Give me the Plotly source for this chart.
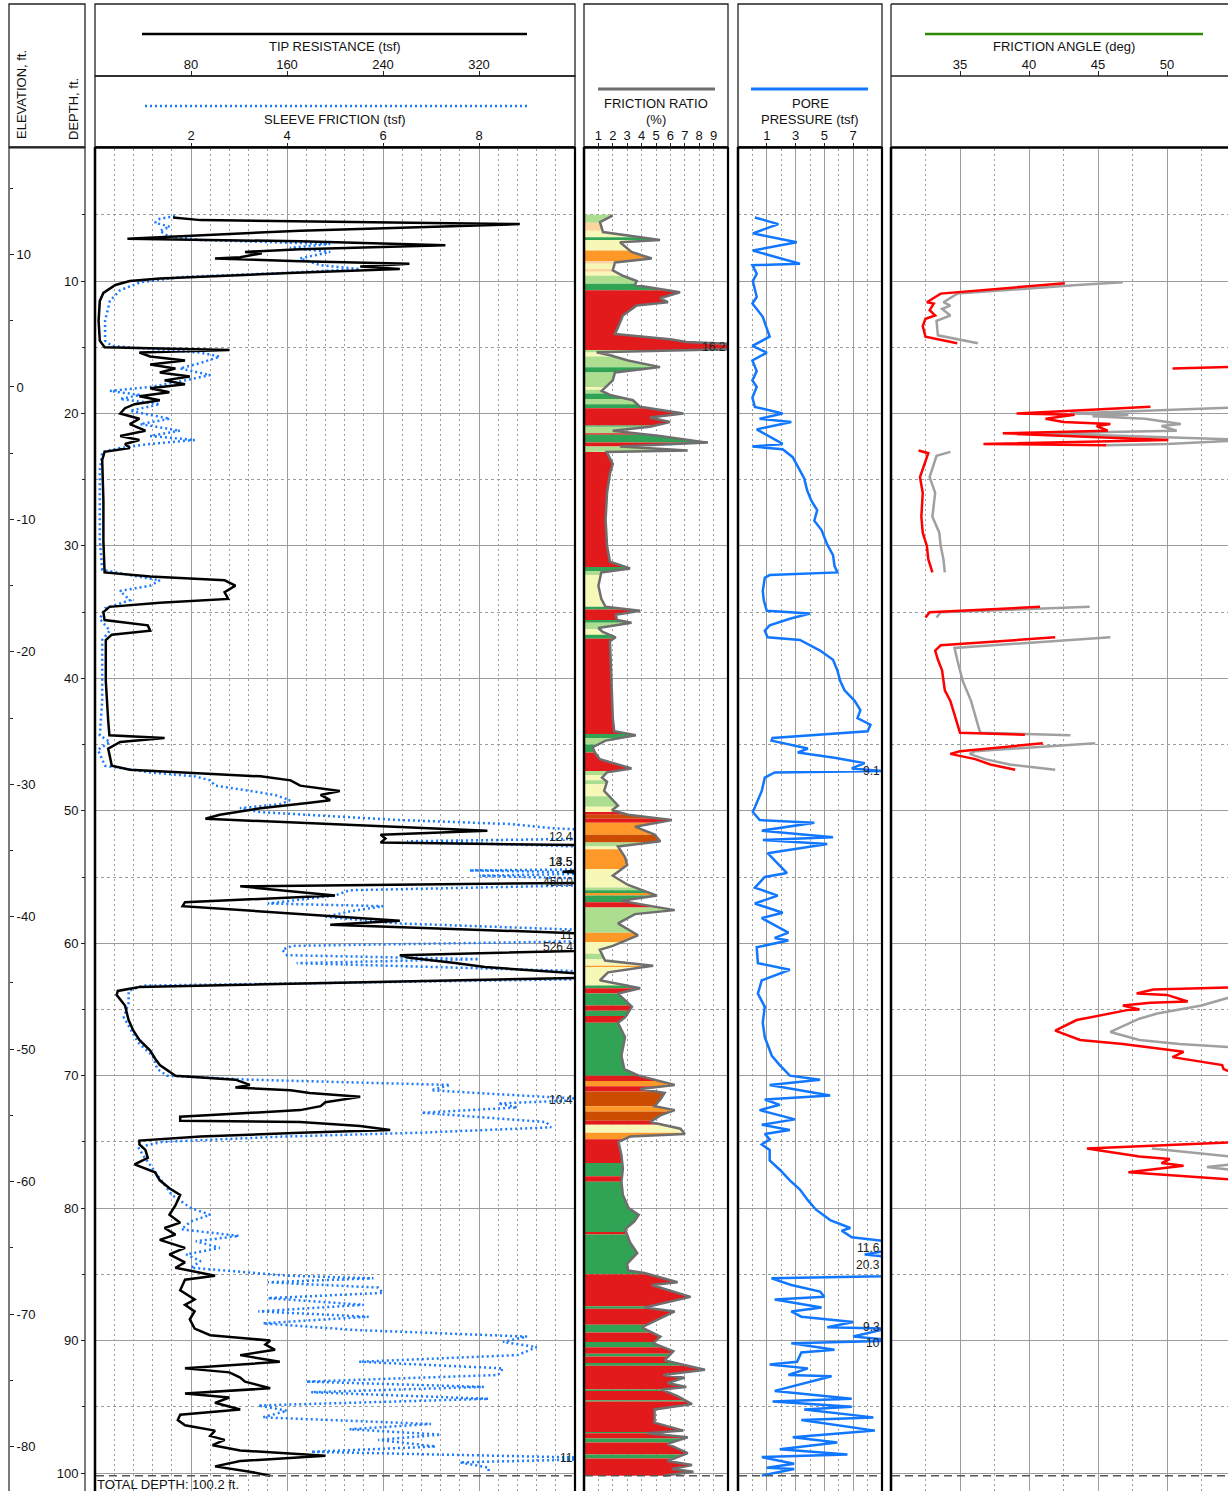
import numpy as np
import plotly.graph_objects as go

# ---------------- DATA (depth ft, value) ----------------
TIP = [(5.2,65),(5.4,88),(5.7,354),(6.2,171),(6.8,27),(7.0,171),(7.3,292),(7.6,171),(7.8,125),(7.9,139),(8.2,121),(8.3,100),(8.5,171),(8.7,262),(8.9,221),(9.1,254),(9.4,162),(9.8,54),(10.0,29),(10.3,17),(10.9,7),(11.5,4),(13.0,3),(14.5,4),(15.0,8),(15.2,112),(15.4,37),(15.7,46),(16.0,75),(16.3,46),(16.6,67),(16.9,54),(17.2,79),(17.5,58),(17.8,75),(18.1,46),(18.4,62),(18.7,37),(19.0,54),(19.3,33),(19.6,25),(20.0,21),(20.4,37),(20.8,29),(21.3,42),(21.7,21),(22.0,37),(22.3,25),(22.6,29),(22.9,8),(23.5,6),(26.6,7),(29.6,7),(32.0,8),(32.3,46),(32.6,108),(33.0,117),(33.5,108),(34.0,111),(34.3,54),(34.6,12),(35.0,7),(35.6,8),(36.0,44),(36.4,46),(36.7,14),(37.1,9),(40.2,9),(43.2,11),(44.3,12),(44.5,58),(44.8,21),(45.3,11),(46.6,14),(46.9,29),(47.2,88),(47.4,138),(47.7,163),(48.1,171),(48.5,204),(48.8,188),(49.2,196),(49.4,179),(49.8,138),(50.3,104),(50.6,92),(50.9,171),(51.2,254),(51.5,327),(51.8,238),(52.1,242),(52.4,238),(52.6,420),(54.4,420),(54.6,390),(54.8,420),(55.4,450),(55.7,121),(56.4,200),(56.9,75),(57.2,73),(58.3,254),(58.6,196),(59.3,420),(60.3,526.4),(60.9,254),(61.1,262),(61.5,300),(61.8,325),(62.4,420),(62.6,410),(63.3,37),(63.6,19),(63.9,18),(64.7,25),(65.8,28),(66.6,32),(67.3,37),(68.1,46),(68.7,50),(69.2,54),(70.0,67),(70.3,117),(70.7,129),(70.9,117),(71.1,163),(71.3,179),(71.6,221),(72.0,192),(72.3,188),(72.6,171),(73.1,71),(73.4,71),(73.5,171),(73.8,221),(74.1,246),(74.3,171),(74.6,88),(74.9,37),(75.2,37),(75.6,42),(76.2,44),(76.7,33),(77.3,50),(77.9,54),(78.5,62),(79.0,71),(79.8,67),(80.5,62),(81.1,71),(81.5,58),(82.0,67),(82.4,54),(83.0,75),(83.5,62),(84.1,75),(84.5,67),(85.1,100),(85.4,75),(86.2,71),(86.9,83),(87.3,75),(87.8,83),(88.4,79),(89.1,83),(89.6,96),(90.0,146),(90.3,142),(90.7,150),(91.1,121),(91.6,154),(92.1,75),(92.4,112),(92.8,121),(93.1,125),(93.6,146),(94.0,75),(94.3,112),(94.7,100),(95.2,121),(95.6,71),(96.0,69),(96.4,75),(96.8,100),(97.2,96),(97.5,108),(97.9,98),(98.3,121),(98.7,192),(99.1,121),(99.5,100),(99.9,129),(100.2,146)]

SLEEVE = [(5.1,1.67),(5.3,1.35),(5.6,1.25),(5.9,1.56),(6.2,1.35),(6.6,1.52),(6.9,2.19),(7.1,4.27),(7.2,4.9),(7.5,4.06),(7.8,4.9),(8.3,4.27),(8.8,4.69),(9.1,5.52),(9.4,3.85),(9.7,1.77),(10.1,0.94),(10.7,0.52),(11.5,0.31),(13.0,0.21),(14.5,0.21),(14.9,0.35),(15.4,2.19),(15.7,2.6),(16.2,2.19),(16.6,1.77),(17.1,2.4),(17.5,1.88),(18.0,1.15),(18.3,0.31),(18.6,0.94),(18.9,0.52),(19.3,1.35),(19.8,0.73),(20.4,1.56),(20.8,0.94),(21.3,1.77),(21.7,1.15),(22.0,2.08),(22.3,1.15),(22.6,0.52),(22.9,0.15),(24.3,0.10),(29.6,0.10),(31.8,0.15),(32.2,0.73),(32.6,1.35),(33.0,1.15),(33.4,0.52),(34.1,0.73),(34.7,0.21),(35.5,0.10),(36.4,0.31),(37.1,0.15),(41.7,0.15),(44.3,0.10),(44.8,0.31),(45.4,0.06),(46.6,0.21),(47.1,1.15),(47.4,2.08),(47.7,2.4),(48.1,2.5),(48.5,3.23),(48.8,3.75),(49.2,4.06),(49.5,3.85),(49.8,3.02),(50.1,3.44),(50.4,4.9),(50.7,6.35),(51.0,8.65),(51.3,9.48),(51.6,11.0),(52.0,12.4),(52.3,6.5),(52.8,11.0),(53.9,14.5),(54.4,11.0),(54.5,7.8),(54.7,11.0),(54.9,8.0),(55.2,11.0),(55.6,10.5),(56.0,5.3),(56.4,5.0),(57.0,3.6),(57.2,6.0),(57.6,5.3),(58.0,4.8),(58.5,6.3),(59.1,11.0),(59.8,11.0),(60.2,4.1),(60.5,3.9),(60.9,4.0),(61.2,8.0),(61.5,4.2),(62.2,11.0),(62.7,10.5),(63.2,1.0),(63.6,0.7),(64.5,0.7),(65.6,0.6),(66.5,0.75),(67.5,0.9),(68.5,1.2),(69.5,1.3),(70.0,1.5),(70.3,3.2),(70.7,7.4),(71.1,7.0),(71.4,8.4),(71.8,10.4),(72.1,8.4),(72.4,8.8),(72.8,6.8),(73.1,8.0),(73.5,9.4),(73.9,9.5),(74.3,6.8),(74.6,3.9),(75.0,1.4),(75.4,0.9),(76.0,1.0),(77.0,1.2),(78.0,1.4),(79.0,1.6),(80.0,2.0),(80.5,2.4),(81.0,2.0),(81.6,1.8),(82.1,3.0),(82.5,2.1),(83.0,2.6),(83.5,1.9),(84.0,2.2),(84.5,2.0),(85.1,4.0),(85.3,5.8),(85.6,3.6),(86.0,5.9),(86.4,6.0),(86.8,3.6),(87.3,5.6),(87.8,3.4),(88.2,5.7),(88.7,3.5),(89.2,5.4),(89.7,9.0),(90.1,8.5),(90.5,9.2),(91.1,8.8),(91.6,5.5),(92.1,8.5),(92.6,8.4),(93.1,4.4),(93.5,8.1),(93.9,4.5),(94.4,8.2),(94.9,3.4),(95.3,4.0),(95.8,3.5),(96.3,7.0),(96.7,5.3),(97.1,7.2),(97.5,5.9),(98.0,7.1),(98.4,4.5),(98.9,11.0),(99.2,7.6),(99.6,8.2),(100.0,8.2)]

FRICTION_RATIO = [(5.0,1.9),(5.1,1.92),(5.56,1.11),(6.3,1.32),(6.9,5.28),(7.07,2.5),(7.8,3.3),(8.3,4.7),(8.6,2.15),(9.2,2.0),(9.6,2.7),(10.0,3.66),(10.3,3.54),(10.85,6.67),(11.3,5.28),(11.6,5.83),(11.85,3.66),(12.6,2.7),(13.5,2.36),(14.0,2.15),(14.4,5.97),(14.6,7.13),(15.0,16.2),(15.37,0.88),(15.6,1.8),(16.0,3.06),(16.5,5.28),(16.9,2.15),(17.5,2.0),(18.3,1.23),(18.6,1.8),(19.0,3.4),(19.5,3.9),(20.0,6.9),(20.3,4.58),(20.65,5.97),(21.0,4.58),(21.3,2.0),(21.7,5.28),(22.2,8.6),(22.5,2.5),(22.8,7.2),(22.9,1.57),(23.8,2.0),(24.55,1.8),(26.0,1.6),(28.0,1.5),(30.0,1.6),(31.2,1.8),(31.7,3.2),(32.0,1.2),(33.0,1.0),(34.0,1.2),(34.6,1.5),(34.9,3.9),(35.2,2.2),(35.6,2.3),(35.8,3.3),(36.2,1.0),(36.5,1.3),(36.9,2.2),(37.2,1.8),(40.0,1.9),(43.0,2.0),(44.0,2.1),(44.3,3.6),(44.7,1.5),(45.2,0.6),(45.6,0.76),(46.1,1.1),(46.8,3.3),(47.1,1.6),(47.5,1.25),(47.8,1.6),(48.5,1.4),(49.6,2.36),(49.96,1.94),(50.3,3.06),(50.7,6.1),(51.2,3.54),(51.8,4.9),(52.3,5.3),(52.7,2.36),(53.5,2.85),(54.1,3.0),(54.9,2.0),(55.6,3.06),(56.4,5.07),(56.8,2.6),(57.5,6.3),(57.8,3.54),(58.5,2.36),(59.4,3.75),(60.2,2.0),(60.5,1.1),(61.3,1.46),(61.7,4.8),(62.2,1.67),(62.8,1.1),(63.4,3.9),(63.8,2.36),(64.8,3.33),(65.6,2.85),(66.0,2.36),(67.1,2.85),(68.5,2.6),(69.5,2.8),(70.0,3.8),(70.7,6.3),(71.0,3.9),(71.3,5.6),(71.8,5.3),(72.3,4.9),(72.6,6.3),(73.0,5.3),(73.5,4.6),(74.0,6.7),(74.4,7.0),(74.6,3.2),(75.0,2.4),(76.0,2.6),(77.0,2.7),(78.0,2.6),(79.0,2.7),(80.0,3.1),(80.5,3.8),(81.0,3.5),(81.6,2.85),(82.6,3.2),(83.4,3.7),(84.2,3.0),(84.7,3.06),(84.9,4.2),(85.6,6.5),(85.8,4.7),(86.7,7.4),(87.5,4.2),(87.8,6.3),(89.0,4.0),(89.7,5.3),(90.2,4.8),(90.8,6.2),(91.5,5.6),(92.2,8.4),(92.6,5.5),(92.8,7.0),(93.2,5.8),(93.5,7.1),(93.7,5.4),(94.2,6.5),(94.8,7.5),(95.2,4.9),(96.2,4.9),(96.8,6.9),(97.0,4.4),(97.3,7.2),(97.8,5.8),(98.5,7.2),(99.1,5.8),(99.4,7.5),(99.7,6.1),(99.9,7.6),(100.2,5.5)]

# soil behaviour zones: (top depth, bottom depth, zone key)
ZONES = [(5.0,5.6,"LG"),(5.6,6.2,"PE"),(6.2,6.7,"PY"),(6.7,6.9,"DG"),(6.9,7.7,"PY"),(7.7,8.5,"OR"),(8.5,8.7,"PE"),(8.7,9.1,"PY"),(9.1,9.3,"PE"),(9.3,9.6,"PY"),(9.6,10.2,"LG"),(10.2,10.7,"DG"),(10.7,15.2,"R"),(15.2,15.4,"LG"),(15.4,15.7,"PY"),(15.7,16.5,"LG"),(16.5,16.9,"DG"),(16.9,18.0,"LG"),(18.0,18.2,"PY"),(18.2,18.5,"LG"),(18.5,18.9,"DG"),(18.9,19.3,"LG"),(19.3,19.6,"DG"),(19.6,20.9,"R"),(20.9,21.0,"DG"),(21.0,21.5,"LG"),(21.5,21.6,"R"),(21.6,22.2,"DG"),(22.2,22.5,"R"),(22.5,22.9,"LG"),(22.9,31.6,"R"),(31.6,31.9,"DG"),(31.9,32.2,"LG"),(32.2,34.6,"PY"),(34.6,34.8,"DG"),(34.8,35.6,"R"),(35.6,35.8,"DG"),(35.8,36.3,"LG"),(36.3,36.7,"PY"),(36.7,37.0,"DG"),(37.0,44.2,"R"),(44.2,44.5,"DG"),(44.5,45.0,"LG"),(45.0,45.6,"DG"),(45.6,47.0,"R"),(47.0,47.3,"LG"),(47.3,47.7,"PY"),(47.7,48.0,"LG"),(48.0,48.9,"PY"),(48.9,49.7,"LG"),(49.7,50.1,"PY"),(50.1,50.3,"R"),(50.3,50.6,"DO"),(50.6,50.9,"R"),(50.9,51.8,"OR"),(51.8,52.4,"DO"),(52.4,52.7,"LG"),(52.7,52.9,"PY"),(52.9,54.4,"OR"),(54.4,55.8,"PY"),(55.8,56.0,"LG"),(56.0,56.2,"DG"),(56.2,56.4,"OR"),(56.4,56.9,"DG"),(56.9,57.3,"R"),(57.3,59.2,"LG"),(59.2,59.9,"OR"),(59.9,60.8,"PY"),(60.8,61.2,"LG"),(61.2,61.7,"PY"),(61.7,61.8,"OR"),(61.8,63.2,"PY"),(63.2,63.4,"DG"),(63.4,63.8,"R"),(63.8,64.7,"DG"),(64.7,65.1,"R"),(65.1,65.5,"DG"),(65.5,66.0,"R"),(66.0,70.0,"DG"),(70.0,70.4,"R"),(70.4,70.8,"OR"),(70.8,71.2,"R"),(71.2,72.3,"DO"),(72.3,72.7,"OR"),(72.7,73.4,"DO"),(73.4,73.7,"R"),(73.7,74.3,"PY"),(74.3,74.8,"OR"),(74.8,76.6,"R"),(76.6,77.6,"DG"),(77.6,78.0,"R"),(78.0,81.8,"DG"),(81.8,82.0,"R"),(82.0,85.0,"DG"),(85.0,87.4,"R"),(87.4,87.6,"DG"),(87.6,88.8,"R"),(88.8,89.4,"DG"),(89.4,90.1,"R"),(90.1,90.5,"DG"),(90.5,91.0,"R"),(91.0,91.2,"DG"),(91.2,91.7,"R"),(91.7,91.9,"DG"),(91.9,93.7,"R"),(93.7,93.8,"DG"),(93.8,94.5,"R"),(94.5,94.6,"DG"),(94.6,96.9,"R"),(96.9,97.0,"DG"),(97.0,97.4,"R"),(97.4,97.7,"DG"),(97.7,98.6,"R"),(98.6,98.9,"DG"),(98.9,100.2,"R")]
ZONE_COLORS = {"R":"#e31a1c","DG":"#31a354","LG":"#addd8e","PY":"#f7f8b8","OR":"#fe9929","DO":"#cc4c02","PE":"#fdd49e"}

PORE = [(5.2,0.17),(5.7,1.8),(6.4,0.03),(7.07,3.08),(7.7,0.03),(8.7,3.3),(8.8,0.0),(9.45,0.3),(10.0,0.03),(11.2,0.3),(11.7,0.0),(12.7,0.72),(14.2,1.2),(14.9,0.0),(15.4,1.0),(16.0,0.0),(16.8,0.3),(17.5,0.0),(18.0,0.3),(18.8,0.0),(19.5,0.17),(20.0,2.1),(20.4,0.5),(20.65,2.7),(21.2,0.3),(22.3,2.1),(22.5,0.0),(22.7,2.1),(23.3,2.8),(24.3,3.3),(24.9,3.6),(25.8,3.8),(26.6,4.1),(27.3,4.5),(28.1,4.3),(28.8,4.8),(29.9,5.2),(30.7,5.6),(31.5,5.7),(32.0,5.9),(32.2,1.2),(32.4,0.86),(33.4,0.72),(34.1,0.79),(34.9,1.0),(35.1,4.0),(35.5,2.6),(36.0,1.2),(36.4,0.86),(36.9,1.06),(37.1,3.3),(37.9,4.7),(38.6,5.6),(39.4,5.9),(40.2,6.1),(40.9,6.4),(41.7,7.1),(42.4,7.5),(43.0,7.3),(43.5,8.2),(44.0,8.0),(44.5,1.4),(44.7,1.33),(45.3,3.85),(45.6,3.15),(46.0,5.7),(46.4,7.8),(46.8,6.9),(47.0,9.1),(47.1,1.55),(47.5,0.86),(48.5,0.65),(49.2,0.38),(50.1,0.03),(50.7,0.51),(50.9,4.3),(51.5,0.65),(52.0,5.6),(52.2,0.72),(52.5,5.2),(53.2,1.06),(54.0,1.76),(54.7,2.4),(55.0,0.86),(55.8,0.17),(56.4,1.76),(57.0,0.17),(57.7,2.1),(58.1,0.65),(59.2,2.5),(59.6,1.55),(59.8,2.5),(60.3,0.3),(61.5,0.38),(62.0,2.6),(62.8,0.65),(63.8,0.38),(64.8,0.86),(66.0,0.72),(67.1,0.86),(67.7,1.06),(68.5,1.35),(69.2,1.9),(70.0,2.6),(70.3,4.7),(70.7,1.2),(71.1,3.3),(71.5,5.4),(71.8,0.86),(72.2,1.9),(72.6,0.5),(72.9,1.55),(73.3,2.95),(73.7,0.65),(74.1,2.6),(74.4,0.86),(74.8,1.2),(75.2,0.65),(75.6,1.2),(76.4,1.2),(77.1,1.9),(77.9,2.6),(78.6,3.3),(79.4,3.85),(80.1,4.4),(80.9,5.4),(81.5,6.8),(81.7,6.2),(82.2,6.9),(82.8,11.6),(83.5,7.8),(83.7,9.5),(84.9,20.3),(85.3,1.33),(85.8,2.7),(86.3,4.7),(86.7,5.0),(86.9,1.55),(87.5,4.8),(87.8,2.7),(88.2,3.4),(88.6,7.0),(89.0,5.2),(89.1,9.3),(89.7,7.0),(90.0,10.0),(90.2,2.7),(90.7,5.7),(90.9,3.4),(91.6,3.1),(91.8,1.2),(92.1,3.85),(92.6,2.5),(92.7,5.5),(93.8,1.55),(94.4,6.9),(94.6,1.4),(95.0,6.9),(95.2,3.6),(95.8,8.4),(96.0,3.4),(96.8,8.5),(97.3,2.8),(97.7,5.9),(98.2,1.9),(98.6,6.6),(98.8,0.65),(99.3,2.9),(99.6,1.0),(99.7,2.9),(100.2,0.65)]

# friction angle, two methods; None splits segments
PHI_RED = [(10.17,42.6),(10.4,39.8),(10.85,34.8),(10.95,33.6),(11.6,32.6),(11.7,33.1),(12.2,32.8),(12.6,33.2),(12.85,32.5),(13.4,32.3),(14.2,32.5),(14.5,34.0),(14.7,34.8),None,
           (16.6,50.4),(16.45,55.5),None,
           (19.5,48.8),(20.0,39.1),(20.1,43.3),(20.4,41.2),(20.65,42.5),(20.8,45.9),(20.95,44.9),(21.3,45.7),(21.5,38.1),(22.0,50.1),(22.3,36.7),(22.4,45.6),None,
           (22.8,32.0),(23.0,32.7),(24.8,32.1),(26.0,32.3),(27.8,32.2),(29.0,32.3),(30.0,32.6),(31.0,32.7),(32.0,33.0),None,
           (34.6,40.8),(35.0,32.8),(35.4,32.5),None,
           (36.9,41.9),(37.5,33.6),(37.9,33.2),(38.6,33.4),(39.4,33.7),(40.2,33.8),(40.9,33.9),(41.7,34.3),(42.4,34.5),(43.2,34.7),(43.9,34.9),(44.1,35.0),(44.25,39.7),None,
           (44.9,41.0),(45.5,35.0),(45.7,34.3),(46.1,36.1),(46.5,37.2),(46.9,39.0),None,
           (63.3,55.5),(63.5,49.0),(63.8,47.8),(63.9,50.0),(64.4,51.5),(64.5,48.8),(64.7,46.8),(65.0,48.0),(65.05,47.1),(65.8,43.45),(66.6,41.9),(67.3,43.7),(67.6,46.8),(68.0,50.0),(68.2,51.2),(68.6,50.4),(69.0,52.6),(69.2,54.0),(69.5,54.1),(70.1,55.5),None,
           (75.0,55.5),(75.5,44.2),(76.1,48.0),(76.3,50.2),(76.6,49.6),(76.8,51.2),(77.3,47.2),(77.7,52.6),(77.9,55.5)]
PHI_GRAY = [(10.1,46.8),(10.3,43.5),(10.95,34.8),(11.6,33.8),(11.85,34.3),(12.1,33.7),(12.6,34.3),(13.0,33.3),(14.1,33.4),(14.5,35.5),(14.7,36.3),None,
            (19.5,56.0),(20.0,43.0),(20.1,47.2),(20.2,44.6),(20.4,48.4),(20.8,51.0),(20.95,49.6),(21.3,50.7),(21.5,40.8),(22.0,56.0),(22.3,50.0),(22.4,45.6),None,
            (22.9,34.3),(23.2,33.3),(24.8,32.8),(26.0,33.2),(27.8,33.0),(29.0,33.5),(30.0,33.6),(31.0,33.8),(32.0,33.9),None,
            (34.6,44.4),(35.0,33.6),(35.4,33.3),None,
            (36.9,45.9),(37.7,34.6),(38.6,34.8),(40.2,35.2),(41.7,35.8),(43.2,36.2),(43.9,36.4),(44.1,36.5),(44.3,43.0),None,
            (44.9,44.8),(45.5,36.1),(45.7,35.7),(46.1,36.8),(46.5,38.6),(46.9,41.9),None,
            (63.8,55.5),(64.7,52.5),(65.3,49.3),(65.7,48.0),(66.7,45.9),(67.3,48.0),(67.6,50.9),(67.9,55.5),None,
            (75.5,48.9),(76.2,55.5),None,(76.6,55.5),(76.9,52.9),(77.2,55.5)]

TIP_TICKS = [80, 160, 240, 320]
SLEEVE_TICKS = [2, 4, 6, 8]
FR_TICKS = [1, 2, 3, 4, 5, 6, 7, 8, 9]
PORE_TICKS = [1, 3, 5, 7]
PHI_TICKS = [35, 40, 45, 50]
DEPTH_TICKS = list(range(10, 101, 10))
ELEV_TICKS = list(range(10, -81, -10))
ELEV_OFFSET = 18.0
TOTAL_DEPTH = 100.2

# clipped-value labels: (panel, depth, text)
CLIP_LABELS = [("p1", 52.0, "12.4"), ("p1", 53.9, "14.5"), ("p1", 53.9, "13.5"), ("p1", 55.4, "450.0"),
               ("p1", 59.4, "11"), ("p1", 60.3, "526.4"), ("p1", 71.8, "10.4"), ("p1", 98.9, "11"),
               ("p2", 15.0, "16.2"),
               ("p3", 47.0, "9.1"), ("p3", 83.0, "11.6"), ("p3", 84.3, "20.3"), ("p3", 89.0, "9.3"), ("p3", 90.2, "10")]

# ---------------- LAYOUT HELPERS ----------------
W, H = 1228, 1491
def X(px): return px / W
def Y(py): return 1 - py / H

TOP = 148.6
PX_PER_FT = 13.244
DEPTH_MAX = (H - TOP) / PX_PER_FT

FONT = "Liberation Sans, Arial, sans-serif"
FS = 13
BLUE = "#1a7bff"
GRID = "#9c9c9c"

def split(series):
    d = [p[0] if p is not None else None for p in series]
    v = [p[1] if p is not None else None for p in series]
    return d, v

fig = go.Figure()

sd, sv = split(SLEEVE)
fig.add_trace(go.Scatter(x=sv, y=sd, xaxis="x", yaxis="y", mode="lines",
                         line=dict(color=BLUE, width=2.5, dash="2px,3px"), hoverinfo="skip"))
td, tv = split(TIP)
fig.add_trace(go.Scatter(x=tv, y=td, xaxis="x2", yaxis="y", mode="lines",
                         line=dict(color="black", width=2.5), hoverinfo="skip"))

fd, fv = split(FRICTION_RATIO)
fd = np.array(fd); fv = np.array(fv)
for d0, d1, key in ZONES:
    inner = fd[(fd > d0) & (fd < d1)]
    ds = np.concatenate([[d0], inner, [d1]])
    vs = np.minimum(np.interp(ds, fd, fv), 12)
    xs = np.concatenate([[0], vs, [0]])
    ys = np.concatenate([[d0], ds, [d1]])
    fig.add_trace(go.Scatter(x=xs, y=ys, xaxis="x3", yaxis="y", mode="lines", fill="toself",
                             fillcolor=ZONE_COLORS[key], line=dict(width=0), hoverinfo="skip"))
fig.add_trace(go.Scatter(x=fv, y=fd, xaxis="x3", yaxis="y", mode="lines",
                         line=dict(color="#6e6e6e", width=2.5), hoverinfo="skip"))

pd_, pv = split(PORE)
fig.add_trace(go.Scatter(x=pv, y=pd_, xaxis="x4", yaxis="y", mode="lines",
                         line=dict(color="#1177ff", width=2.5), hoverinfo="skip"))

gd, gv = split(PHI_GRAY)
fig.add_trace(go.Scatter(x=gv, y=gd, xaxis="x5", yaxis="y", mode="lines", connectgaps=False,
                         line=dict(color="#a0a0a0", width=2.5), hoverinfo="skip"))
rd, rv = split(PHI_RED)
fig.add_trace(go.Scatter(x=rv, y=rd, xaxis="x5", yaxis="y", mode="lines", connectgaps=False,
                         line=dict(color="#ff0000", width=2.5), hoverinfo="skip"))

fig.add_trace(go.Scatter(x=[None], y=[None], xaxis="x", yaxis="y2", hoverinfo="skip"))

tickfont = dict(family=FONT, size=FS, color="#111")
ydom = [0, Y(TOP)]
minor_dot = dict(showgrid=True, gridcolor=GRID, griddash="2px,3px", gridwidth=1, ticks="")
xtick = dict(ticks="outside", ticklen=5, tickcolor="#222", tickfont=tickfont, ticklabelstandoff=-3,
             zeroline=False, showline=False)

fig.update_layout(
    width=W, height=H, margin=dict(l=0, r=0, t=0, b=0),
    paper_bgcolor="white", plot_bgcolor="white", showlegend=False,
    font=dict(family=FONT, size=FS, color="#111"),
    yaxis=dict(domain=ydom, range=[DEPTH_MAX, 0], anchor="free", position=X(85), side="left",
               tickvals=DEPTH_TICKS, ticks="outside", ticklen=4, tickcolor="#222", tickfont=tickfont,
               showgrid=True, gridcolor=GRID, gridwidth=1.2, zeroline=False, showline=False,
               minor=dict(tickvals=[5 + 10 * i for i in range(10)], ticks="outside", ticklen=3, tickcolor="#222",
                          showgrid=True, gridcolor=GRID, griddash="3px,3px", gridwidth=1)),
    yaxis2=dict(overlaying="y", range=[ELEV_OFFSET - DEPTH_MAX, ELEV_OFFSET], anchor="free", position=X(9),
                side="right", tickvals=ELEV_TICKS, ticktext=[str(v) for v in ELEV_TICKS],
                ticks="outside", ticklen=4, tickcolor="#222",
                tickfont=tickfont, showgrid=False, zeroline=False, showline=False,
                minor=dict(tickvals=[15 - 10 * i for i in range(10)], ticks="outside", ticklen=3, tickcolor="#222")),
    xaxis=dict(domain=[X(95), X(575)], range=[0, 10], anchor="y", side="top", tickvals=SLEEVE_TICKS,
               showgrid=True, gridcolor=GRID, gridwidth=1.2,
               minor=dict(dtick=0.4, tick0=0, **minor_dot), **xtick),
    xaxis2=dict(overlaying="x", range=[0, 400], anchor="free", position=Y(76), side="top",
                tickvals=TIP_TICKS, showgrid=False, **xtick),
    xaxis3=dict(domain=[X(584), X(728)], range=[0, 10], anchor="y", side="top", tickvals=FR_TICKS,
                showgrid=True, gridcolor=GRID, griddash="2px,3px", gridwidth=1, **xtick),
    xaxis4=dict(domain=[X(738), X(882)], range=[-1, 9], anchor="y", side="top", tickvals=PORE_TICKS,
                showgrid=True, gridcolor=GRID, gridwidth=1.2,
                minor=dict(tickvals=[0, 2, 4, 6, 8], **minor_dot), **xtick),
    xaxis5=dict(domain=[X(891), 1.0], range=[30, 30 + (W - 891) / 13.8], anchor="free", position=Y(76),
                side="top", tickvals=PHI_TICKS, showgrid=True, gridcolor=GRID, gridwidth=1.2,
                minor=dict(tickvals=[32.5, 37.5, 42.5, 47.5, 52.5], **minor_dot), **xtick),
)

shapes = []
def line(x0, y0, x1, y1, w=1.3, color="#222", dash=None):
    d = dict(type="line", xref="paper", yref="paper", x0=X(x0), y0=Y(y0), x1=X(x1), y1=Y(y1),
             line=dict(color=color, width=w))
    if dash:
        d["line"]["dash"] = dash
    shapes.append(d)

def rect(x0, y0, x1, y1, w=1.3):
    shapes.append(dict(type="rect", xref="paper", yref="paper", x0=X(x0), y0=Y(y0), x1=X(x1), y1=Y(y1),
                       line=dict(color="#222", width=w)))

rect(9, 4, 85, 147)
rect(95, 4, 575, 76)
rect(95, 76, 575, 147)
rect(584, 4, 728, 147)
rect(738, 4, 882, 147)
line(891, 4, W + 5, 4)
line(891, 4, 891, 147)
line(891, 76, W + 5, 76)
line(9, 147, 9, H + 5, w=1.2)
line(85, 147, 85, H + 5, w=1.2)
line(9, 147.5, 85, 147.5, w=2)
for xl, xr in [(95, 575), (584, 728), (738, 882), (891, W + 5)]:
    line(xl, 147.5, xr, 147.5, w=2.5, color="black")
    line(xl, 147, xl, H + 5, w=2.5, color="black")
    if xr < W:
        line(xr, 147, xr, H + 5, w=2.2, color="black")
line(142, 34, 527, 34, w=2.5, color="black")
line(145, 106, 527, 106, w=2.5, color=BLUE, dash="2px,3px")
line(598, 89, 715, 89, w=3, color="#6e6e6e")
line(751, 89, 868, 89, w=3, color="#1177ff")
line(925, 34, 1203, 34, w=2.5, color="#2c8a06")

for xl, xr in [(96, 574), (585, 727), (739, 881), (892, W)]:
    shapes.append(dict(type="line", xref="paper", yref="y", x0=X(xl), x1=X(xr), y0=TOTAL_DEPTH, y1=TOTAL_DEPTH,
                       line=dict(color="#555", width=1.5, dash="8px,5px")))
fig.update_layout(shapes=shapes)

ann = []
def text(x, y, s, xanchor="center", yanchor="middle", angle=0, size=FS):
    ann.append(dict(x=X(x), y=Y(y), xref="paper", yref="paper", text=s, showarrow=False,
                    xanchor=xanchor, yanchor=yanchor, textangle=angle,
                    font=dict(family=FONT, size=size, color="#111")))

text(335, 47, "TIP RESISTANCE (tsf)")
text(335, 119, "SLEEVE FRICTION (tsf)")
text(656, 104, "FRICTION RATIO")
text(656, 119, "(%)")
text(810, 104, "PORE")
text(810, 119, "PRESSURE (tsf)")
text(1064, 47, "FRICTION ANGLE (deg)")
text(21, 95, "ELEVATION, ft.", angle=-90)
text(74, 109, "DEPTH, ft.", angle=-90)
text(95, 1484, "TOTAL DEPTH: 100.2 ft.", xanchor="left")

right_edge = {"p1": 575, "p2": 728, "p3": 882}
for panel, depth, s in CLIP_LABELS:
    ann.append(dict(x=X(right_edge[panel]), y=depth, xref="paper", yref="y", text=s, showarrow=False,
                    xanchor="right", yanchor="middle", font=dict(family=FONT, size=12, color="#222")))
fig.update_layout(annotations=ann)

fig.write_html("out.html", config={"displayModeBar": False},
               post_script="document.body.style.margin='0';document.body.style.overflow='hidden';")
